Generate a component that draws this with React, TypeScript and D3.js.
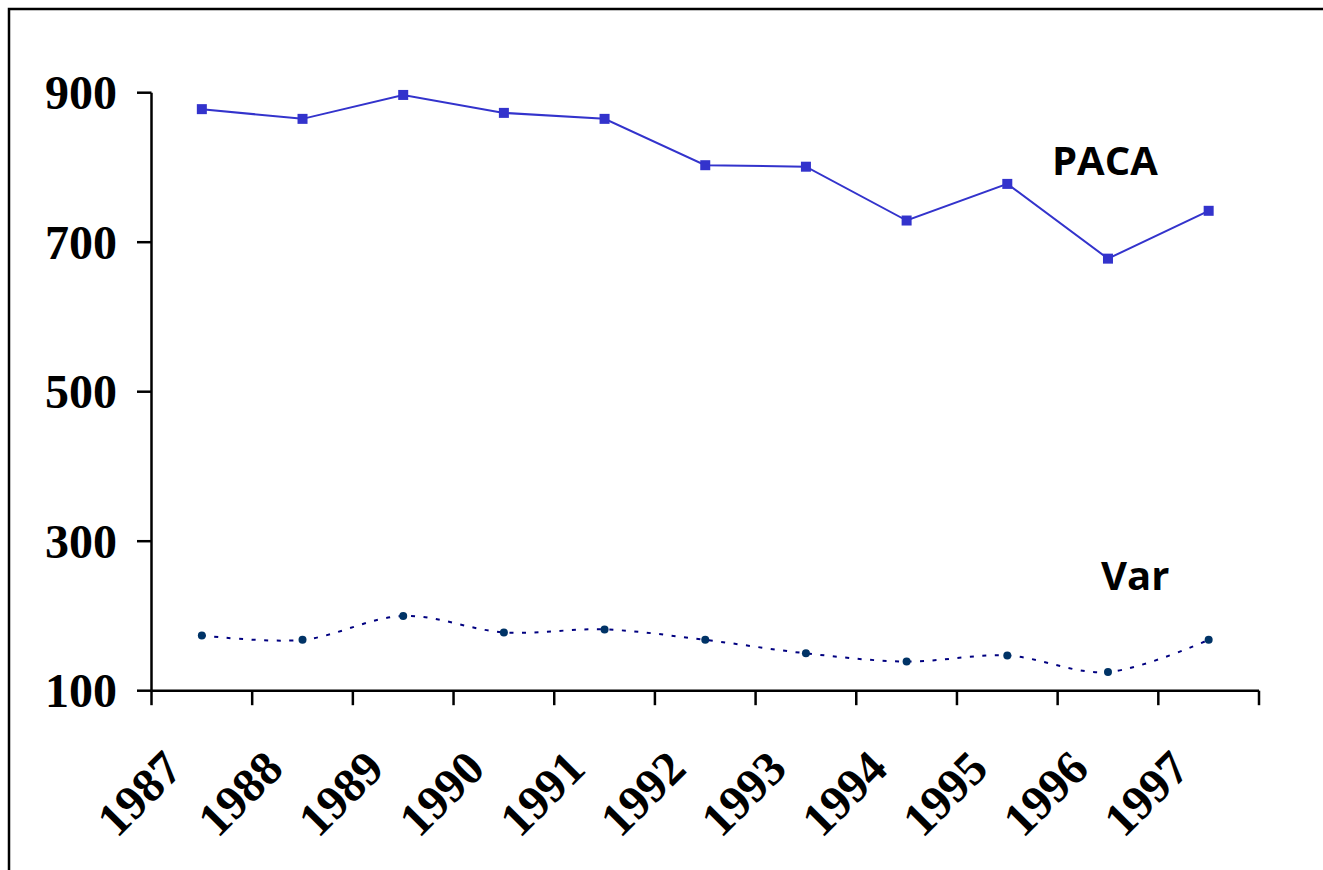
import React from "react";
import * as d3 from "d3";

const years = ["1987", "1988", "1989", "1990", "1991", "1992", "1993", "1994", "1995", "1996", "1997"];
const pacaValues = [878, 865, 897, 873, 865, 803, 801, 729, 778, 678, 742];
const varValues = [174, 168, 200, 178, 182, 168, 150, 139, 147, 125, 168];
const yTicks = [100, 300, 500, 700, 900];

export default function App() {
  const W = 1323;
  const H = 870;
  const x = d3.scaleBand<string>().domain(years).range([151.5, 1259]);
  const y = d3.scaleLinear().domain([100, 900]).range([690.7, 92.7]);
  const cx = (yr: string) => (x(yr) as number) + x.bandwidth() / 2;

  const pacaLine = d3
    .line<number>()
    .x((_, i) => cx(years[i]))
    .y((d) => y(d));
  const varLine = d3
    .line<number>()
    .x((_, i) => cx(years[i]))
    .y((d) => y(d))
    .curve(d3.curveCardinal.tension(0));

  const xTickPos = [...years.map((yr) => x(yr) as number), x.range()[1]];
  const serif = "'Liberation Serif', 'Times New Roman', serif";
  const sans = "'Open Sans', 'Noto Sans', sans-serif";

  return (
    <svg
      width={W}
      height={H}
      style={{ position: "absolute", left: 0, top: 0, display: "block", background: "#fff" }}
    >
      <rect x={0} y={0} width={W} height={H} fill="#fff" />
      {/* outer border */}
      <rect x={9} y={9} width={1400} height={1000} fill="none" stroke="#000" strokeWidth={2.5} />

      {/* y axis */}
      <line x1={151.5} x2={151.5} y1={y(900)} y2={y(100)} stroke="#000" strokeWidth={2.5} />
      {yTicks.map((t) => (
        <g key={t}>
          <line x1={137} x2={151.5} y1={y(t)} y2={y(t)} stroke="#000" strokeWidth={2.5} />
          <text
            x={117}
            y={y(t) + 16.5}
            textAnchor="end"
            fontFamily={serif}
            fontWeight="bold"
            fontSize={48}
            fill="#000"
          >
            {t}
          </text>
        </g>
      ))}

      {/* x axis */}
      <line x1={151.5} x2={1259} y1={y(100)} y2={y(100)} stroke="#000" strokeWidth={2.5} />
      {xTickPos.map((p, i) => (
        <line key={i} x1={p} x2={p} y1={y(100)} y2={y(100) + 14.5} stroke="#000" strokeWidth={2.5} />
      ))}
      {years.map((yr) => {
        const ax = cx(yr) - 17;
        const ay = 771;
        return (
          <text
            key={yr}
            x={ax}
            y={ay}
            textAnchor="end"
            transform={`rotate(-45 ${ax} ${ay})`}
            fontFamily={serif}
            fontWeight="bold"
            fontSize={48}
            fill="#000"
          >
            {yr}
          </text>
        );
      })}

      {/* PACA series */}
      <path d={pacaLine(pacaValues) || ""} fill="none" stroke="#3333CC" strokeWidth={2} />
      {pacaValues.map((v, i) => (
        <rect key={i} x={cx(years[i]) - 5} y={y(v) - 5} width={10} height={10} fill="#3333CC" />
      ))}

      {/* Var series */}
      <path
        d={varLine(varValues) || ""}
        fill="none"
        stroke="#000080"
        strokeWidth={2}
        strokeDasharray="4 8.5"
      />
      {varValues.map((v, i) => (
        <circle key={i} cx={cx(years[i])} cy={y(v)} r={4} fill="#003366" />
      ))}

      {/* series labels */}
      <text x={1052} y={175} fontFamily={sans} fontWeight="bold" fontSize={40} fill="#000">
        PACA
      </text>
      <text x={1101} y={590} fontFamily={sans} fontWeight="bold" fontSize={40} fill="#000">
        Var
      </text>
    </svg>
  );
}
